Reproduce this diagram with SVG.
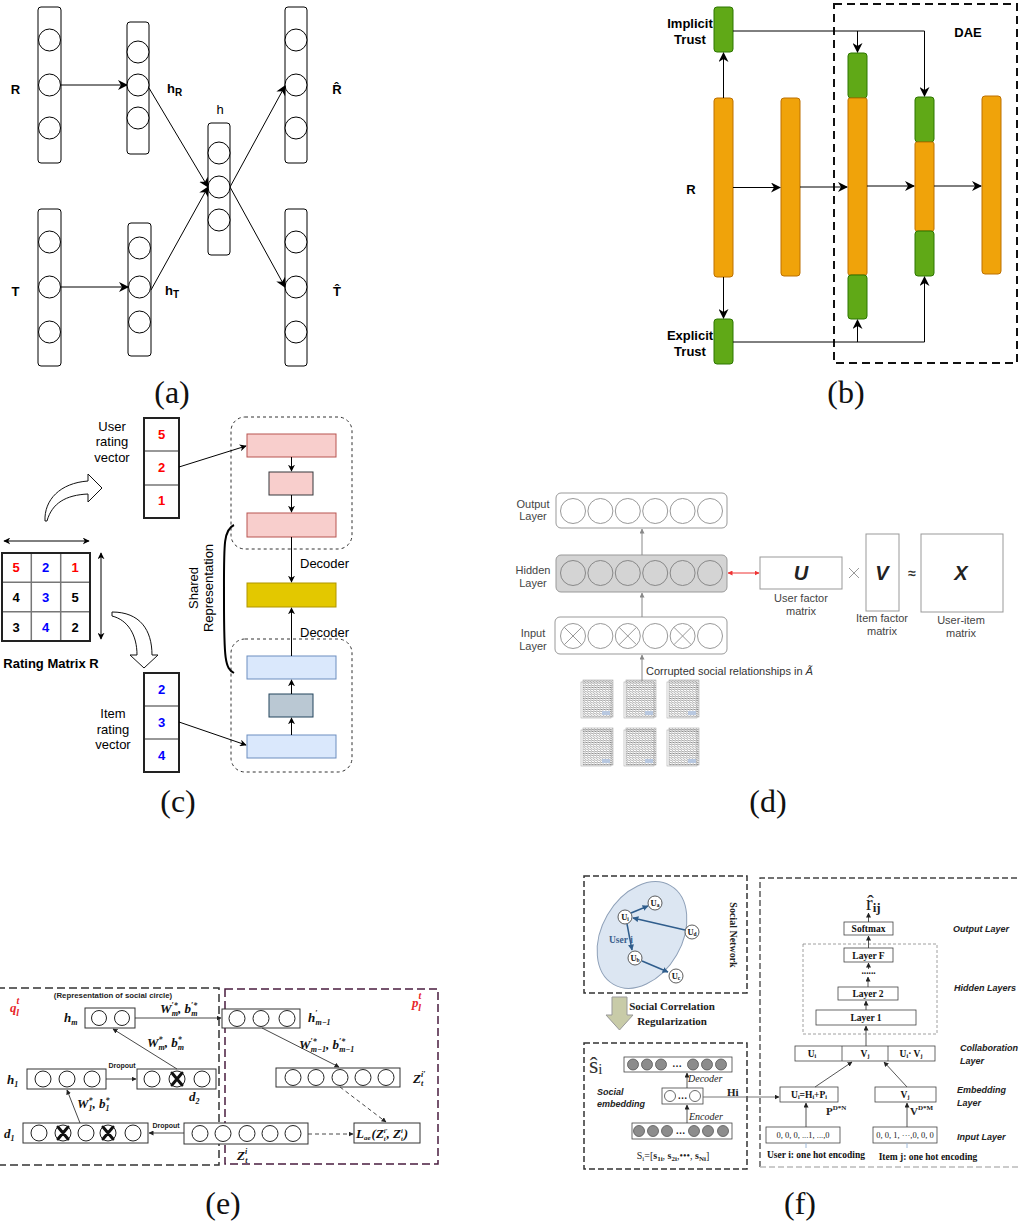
<svg xmlns="http://www.w3.org/2000/svg" width="1020" height="1224" viewBox="0 0 1020 1224">
<style>
.sans{font-family:"Liberation Sans",Arial,sans-serif}
.serif{font-family:"Liberation Serif","Times New Roman",serif}
.cap{font-family:"Liberation Serif","Times New Roman",serif;font-size:32px;text-anchor:middle;fill:#111}
.lb{font-family:"Liberation Sans",Arial,sans-serif;font-size:13px;font-weight:bold;fill:#000}
.lr{font-family:"Liberation Sans",Arial,sans-serif;font-size:13px;fill:#000}
.col{fill:#fff;stroke:#000;stroke-width:1}
.nc{fill:#fff;stroke:#000;stroke-width:1}
.or{fill:#f0a30a;stroke:#bd7000;stroke-width:1}
.gr{fill:#60a917;stroke:#2d7600;stroke-width:1}
.ln{fill:none;stroke:#000;stroke-width:1}
.dl{font-family:"Liberation Sans",Arial,sans-serif;font-size:11px;fill:#444;text-anchor:middle}
.dc{fill:#fff;stroke:#999;stroke-width:1}
.mi{font-family:"Liberation Serif","Times New Roman",serif;font-weight:bold;font-style:italic;font-size:13px;fill:#111}
.s{font-size:8px}
.eb{fill:#fff;stroke:#333;stroke-width:1}
.ec{fill:#fff;stroke:#222;stroke-width:1}
.fx{stroke:#111;stroke-width:3;stroke-linecap:round}
.fb{fill:#fff;stroke:#444;stroke-width:0.8}
.ft{font-family:"Liberation Serif","Times New Roman",serif;font-weight:bold;font-size:9.5px;fill:#111;text-anchor:middle}
.fi{font-family:"Liberation Sans",Arial,sans-serif;font-weight:bold;font-style:italic;font-size:9px;fill:#222}
.fc{fill:#8c8c8c;stroke:#555;stroke-width:0.8}
.fo{fill:#fff;stroke:#444;stroke-width:0.8}
.un{fill:#fff;stroke:#333;stroke-width:0.8}
.ul{font-family:"Liberation Serif","Times New Roman",serif;font-weight:bold;font-size:8.5px;fill:#111;text-anchor:middle}
</style>
<defs>
<marker id="ma" viewBox="0 0 10 10" refX="9" refY="5" markerWidth="10" markerHeight="10" markerUnits="userSpaceOnUse" orient="auto-start-reverse"><path d="M0,0 L10,5 L0,10 L3,5 z" fill="#000"/></marker>
<marker id="mc" viewBox="0 0 10 10" refX="9" refY="5" markerWidth="7" markerHeight="7" markerUnits="userSpaceOnUse" orient="auto-start-reverse"><path d="M0,0 L10,5 L0,10 L3,5 z" fill="#000"/></marker>
<marker id="ms" viewBox="0 0 10 10" refX="9" refY="5" markerWidth="5" markerHeight="5" markerUnits="userSpaceOnUse" orient="auto-start-reverse"><path d="M0,0 L10,5 L0,10 z" fill="#222"/></marker>
<marker id="mg" viewBox="0 0 10 10" refX="9" refY="5" markerWidth="5" markerHeight="5" markerUnits="userSpaceOnUse" orient="auto-start-reverse"><path d="M0,0 L10,5 L0,10 z" fill="#888"/></marker>
<marker id="mr" viewBox="0 0 10 10" refX="9" refY="5" markerWidth="5" markerHeight="5" markerUnits="userSpaceOnUse" orient="auto-start-reverse"><path d="M0,0 L10,5 L0,10 z" fill="#e33"/></marker>
<marker id="mb" viewBox="0 0 10 10" refX="9" refY="5" markerWidth="6" markerHeight="6" markerUnits="userSpaceOnUse" orient="auto-start-reverse"><path d="M0,0 L10,5 L0,10 z" fill="#2f5d8c"/></marker>
<pattern id="scrib" width="3" height="2.2" patternUnits="userSpaceOnUse"><path d="M0 1.1 Q0.75 0.2 1.5 1.1 T3 1.1" fill="none" stroke="#555" stroke-width="0.7"/></pattern>
</defs>
<rect width="1020" height="1224" fill="#fff"/>

<!-- ===== Panel (a) ===== -->
<g id="a-R">
<rect class="col" x="38" y="7" width="23" height="156" rx="3"/>
<circle class="nc" cx="49.5" cy="40" r="11"/><circle class="nc" cx="49.5" cy="85" r="11"/><circle class="nc" cx="49.5" cy="128" r="11"/>
<text class="lb" x="15.5" y="94" text-anchor="middle">R</text>
</g>
<g id="a-T">
<rect class="col" x="38" y="209" width="23" height="157" rx="3"/>
<circle class="nc" cx="49.5" cy="242" r="11"/><circle class="nc" cx="49.5" cy="287" r="11"/><circle class="nc" cx="49.5" cy="332" r="11"/>
<text class="lb" x="15.5" y="296" text-anchor="middle">T</text>
</g>
<g id="a-hR">
<rect class="col" x="127" y="22" width="22" height="132" rx="3"/>
<circle class="nc" cx="138" cy="52" r="11"/><circle class="nc" cx="138" cy="85" r="11"/><circle class="nc" cx="138" cy="118" r="11"/>
<text class="lb" x="167" y="93">h<tspan font-size="10" dy="3">R</tspan></text>
</g>
<g id="a-hT">
<rect class="col" x="128" y="223" width="23" height="133" rx="3"/>
<circle class="nc" cx="139.5" cy="248" r="11"/><circle class="nc" cx="139.5" cy="287" r="11"/><circle class="nc" cx="139.5" cy="322" r="11"/>
<text class="lb" x="165" y="295">h<tspan font-size="10" dy="3">T</tspan></text>
</g>
<g id="a-h">
<rect class="col" x="208" y="123" width="22" height="132" rx="3"/>
<circle class="nc" cx="219" cy="153" r="11"/><circle class="nc" cx="219" cy="187" r="11"/><circle class="nc" cx="219" cy="220" r="11"/>
<text class="lr" x="220" y="114" text-anchor="middle">h</text>
</g>
<g id="a-Rhat">
<rect class="col" x="285" y="7" width="22" height="156" rx="3"/>
<circle class="nc" cx="296" cy="40" r="11"/><circle class="nc" cx="296" cy="85" r="11"/><circle class="nc" cx="296" cy="128" r="11"/>
<text class="lb" x="337" y="94" text-anchor="middle">R̂</text>
</g>
<g id="a-That">
<rect class="col" x="285" y="209" width="22" height="157" rx="3"/>
<circle class="nc" cx="296" cy="242" r="11"/><circle class="nc" cx="296" cy="287" r="11"/><circle class="nc" cx="296" cy="332" r="11"/>
<text class="lb" x="337" y="296" text-anchor="middle">T̂</text>
</g>
<g id="a-edges" class="ln">
<path d="M61 85 L127 85" marker-end="url(#ma)"/>
<path d="M149 88 L208 187" marker-end="url(#ma)"/>
<path d="M61 287 L128 287" marker-end="url(#ma)"/>
<path d="M151 290 L208 187" marker-end="url(#ma)"/>
<path d="M230 187 L285 86" marker-end="url(#ma)"/>
<path d="M230 187 L285 287" marker-end="url(#ma)"/>
</g>
<text class="cap" x="172" y="403">(a)</text>

<!-- ===== Panel (b) ===== -->
<rect id="b-dae" x="834" y="4" width="183" height="359" fill="none" stroke="#111" stroke-width="2" stroke-dasharray="8 5"/>
<text class="lb" x="968" y="37" text-anchor="middle">DAE</text>
<g id="b-implicit"><rect class="gr" x="714" y="7" width="19" height="45" rx="3"/>
<text class="lb" x="690" y="28" text-anchor="middle">Implicit</text><text class="lb" x="690" y="44" text-anchor="middle">Trust</text></g>
<g id="b-R"><rect class="or" x="714" y="98" width="19" height="179" rx="3"/><text class="lb" x="691" y="194" text-anchor="middle">R</text></g>
<g id="b-explicit"><rect class="gr" x="714" y="319" width="19" height="45" rx="3"/>
<text class="lb" x="690" y="340" text-anchor="middle">Explicit</text><text class="lb" x="690" y="356" text-anchor="middle">Trust</text></g>
<g id="b-h1"><rect class="or" x="781" y="98" width="19" height="178" rx="3"/></g>
<g id="b-in"><rect class="gr" x="848" y="53" width="19" height="45" rx="3"/><rect class="or" x="848" y="98" width="19" height="177" rx="2"/><rect class="gr" x="848" y="275" width="19" height="44" rx="3"/></g>
<g id="b-code"><rect class="gr" x="915" y="97" width="19" height="45" rx="3"/><rect class="or" x="915" y="142" width="19" height="89" rx="2"/><rect class="gr" x="915" y="231" width="19" height="45" rx="3"/></g>
<g id="b-out"><rect class="or" x="982" y="96" width="19" height="178" rx="3"/></g>
<g id="b-edges" class="ln" stroke-width="1.2">
<path d="M723.5 98 L723.5 53" marker-end="url(#ma)"/>
<path d="M723.5 277 L723.5 318" marker-end="url(#ma)"/>
<path d="M733 31 L924.5 31 L924.5 96" marker-end="url(#ma)"/>
<path d="M857.5 31 L857.5 52" marker-end="url(#ma)"/>
<path d="M733 342 L924.5 342 L924.5 277" marker-end="url(#ma)"/>
<path d="M857.5 342 L857.5 320" marker-end="url(#ma)"/>
<path d="M733 187.5 L780 187.5" marker-end="url(#ma)"/>
<path d="M800 187 L847 187" marker-end="url(#ma)"/>
<path d="M867 186 L914 186" marker-end="url(#ma)"/>
<path d="M934 186 L981 186" marker-end="url(#ma)"/>
</g>
<text class="cap" x="846" y="403">(b)</text>

<!-- ===== Panel (c) ===== -->
<g id="c-user-vec">
<rect x="144" y="418" width="35" height="100" fill="#fff" stroke="#222" stroke-width="2"/>
<path d="M145 451 H178 M145 485 H178" stroke="#777" stroke-width="1.5"/>
<g class="lb" text-anchor="middle" style="fill:#ff0000"><text x="161.5" y="439">5</text><text x="161.5" y="472">2</text><text x="161.5" y="505">1</text></g>
<g class="lr" text-anchor="middle"><text x="112" y="431">User</text><text x="112" y="446">rating</text><text x="112" y="462">vector</text></g>
</g>
<g id="c-item-vec">
<rect x="144" y="673" width="35" height="99" fill="#fff" stroke="#222" stroke-width="2"/>
<path d="M145 706 H178 M145 739 H178" stroke="#777" stroke-width="1.5"/>
<g class="lb" text-anchor="middle" style="fill:#0000ff"><text x="161.5" y="694">2</text><text x="161.5" y="727">3</text><text x="161.5" y="760">4</text></g>
<g class="lr" text-anchor="middle"><text x="113" y="718">Item</text><text x="113" y="734">rating</text><text x="113" y="749">vector</text></g>
</g>
<g id="c-matrix">
<rect x="2" y="553" width="88" height="88" fill="#fff"/>
<path d="M31.3 553 V641 M60.7 553 V641 M2 582.3 H90 M2 611.7 H90" stroke="#777" stroke-width="1.5"/>
<rect x="2" y="553" width="88" height="88" fill="none" stroke="#222" stroke-width="2"/>
<g class="lb" text-anchor="middle">
<text x="16" y="572" style="fill:#ff0000">5</text><text x="45.5" y="572" style="fill:#0000ff">2</text><text x="75" y="572" style="fill:#ff0000">1</text>
<text x="16" y="602">4</text><text x="45.5" y="602" style="fill:#0000ff">3</text><text x="75" y="602">5</text>
<text x="16" y="632">3</text><text x="45.5" y="632" style="fill:#0000ff">4</text><text x="75" y="632">2</text>
</g>
<path class="ln" d="M4 541 L89 541" marker-start="url(#mc)" marker-end="url(#mc)"/>
<path class="ln" d="M101 553 L101 639" marker-start="url(#mc)" marker-end="url(#mc)"/>
<text class="lb" x="51" y="668" text-anchor="middle">Rating Matrix R</text>
</g>
<g id="c-curved-arrows" fill="#fff" stroke="#111" stroke-width="1">
<path d="M45 521 C44 500 60 483 88 481 L88 474 L102 488 L88 502 L88 494 C66 495 52 503 47 521 Z"/>
<path d="M112 612 C140 612 152 630 152 655 L158 655 L144 668 L130 655 L137 655 C137 635 128 620 112 616 Z"/>
</g>
<g id="c-enc-top"><rect x="231" y="417" width="121" height="132" rx="14" fill="none" stroke="#333" stroke-dasharray="3 3"/></g>
<g id="c-enc-bot"><rect x="231" y="639" width="121" height="133" rx="14" fill="none" stroke="#333" stroke-dasharray="3 3"/></g>
<g id="c-p1"><rect x="247" y="434" width="89" height="23" fill="#f8cecc" stroke="#b85450"/></g>
<g id="c-p2"><rect x="269" y="472" width="44" height="23" fill="#f8cecc" stroke="#36393d"/></g>
<g id="c-p3"><rect x="247" y="513" width="89" height="24" fill="#f8cecc" stroke="#b85450"/></g>
<g id="c-shared"><rect x="247" y="583" width="89" height="24" fill="#e3c800" stroke="#b09500"/></g>
<g id="c-b1"><rect x="247" y="656" width="89" height="23" fill="#dae8fc" stroke="#6c8ebf"/></g>
<g id="c-b2"><rect x="269" y="694" width="44" height="23" fill="#bac8d3" stroke="#23445d"/></g>
<g id="c-b3"><rect x="247" y="735" width="89" height="23" fill="#dae8fc" stroke="#6c8ebf"/></g>
<g id="c-edges" class="ln">
<path d="M179 467 L246 446" marker-end="url(#mc)"/>
<path d="M179 722 L246 745" marker-end="url(#mc)"/>
<path d="M291.5 457 L291.5 471" marker-end="url(#mc)"/>
<path d="M291.5 495 L291.5 512" marker-end="url(#mc)"/>
<path d="M291.5 537 L291.5 582" marker-end="url(#mc)"/>
<path d="M291.5 656 L291.5 608" marker-end="url(#mc)"/>
<path d="M291.5 694 L291.5 680" marker-end="url(#mc)"/>
<path d="M291.5 735 L291.5 718" marker-end="url(#mc)"/>
</g>
<text class="lr" x="300" y="568">Decoder</text>
<text class="lr" x="300" y="637">Decoder</text>
<text class="lr" transform="translate(198,588) rotate(-90)" text-anchor="middle">Shared</text>
<text class="lr" transform="translate(213,588) rotate(-90)" text-anchor="middle">Representation</text>
<path d="M234 525 C223 530 224 545 224 600 C224 660 225 668 234 673" fill="none" stroke="#000" stroke-width="2"/>
<text class="cap" x="178" y="812">(c)</text>

<!-- ===== Panel (d) ===== -->
<g id="d-output">
<rect x="556" y="493" width="171" height="35" rx="5" fill="#fff" stroke="#999"/>
<g class="dc"><circle cx="573" cy="511" r="12.5"/><circle cx="600.4" cy="511" r="12.5"/><circle cx="627.8" cy="511" r="12.5"/><circle cx="655.2" cy="511" r="12.5"/><circle cx="682.6" cy="511" r="12.5"/><circle cx="710" cy="511" r="12.5"/></g>
<text class="dl" x="533" y="508">Output</text><text class="dl" x="533" y="520">Layer</text>
</g>
<g id="d-hidden">
<rect x="556" y="555" width="171" height="37" rx="5" fill="#d4d4d4" stroke="#999"/>
<g fill="none" stroke="#888"><circle cx="573" cy="573" r="12.5"/><circle cx="600.4" cy="573" r="12.5"/><circle cx="627.8" cy="573" r="12.5"/><circle cx="655.2" cy="573" r="12.5"/><circle cx="682.6" cy="573" r="12.5"/><circle cx="710" cy="573" r="12.5"/></g>
<text class="dl" x="533" y="574">Hidden</text><text class="dl" x="533" y="587">Layer</text>
</g>
<g id="d-input">
<rect x="555" y="617" width="172" height="37" rx="5" fill="#fff" stroke="#999"/>
<g class="dc"><circle cx="573" cy="636" r="12.5"/><circle cx="600.4" cy="636" r="12.5"/><circle cx="627.8" cy="636" r="12.5"/><circle cx="655.2" cy="636" r="12.5"/><circle cx="682.6" cy="636" r="12.5"/><circle cx="710" cy="636" r="12.5"/></g>
<path d="M564.2 627.2 L581.8 644.8 M581.8 627.2 L564.2 644.8 M619 627.2 L636.6 644.8 M636.6 627.2 L619 644.8 M673.8 627.2 L691.4 644.8 M691.4 627.2 L673.8 644.8" stroke="#999" stroke-width="1"/>
<text class="dl" x="533" y="637">Input</text><text class="dl" x="533" y="650">Layer</text>
</g>
<g id="d-docs" stroke="#aaa" stroke-width="0.6">
<rect x="581" y="682" width="30" height="36" fill="#fff"/><rect x="624" y="682" width="30" height="36" fill="#fff"/><rect x="667" y="682" width="30" height="36" fill="#fff"/>
<rect x="581" y="730" width="30" height="36" fill="#fff"/><rect x="624" y="730" width="30" height="36" fill="#fff"/><rect x="667" y="730" width="30" height="36" fill="#fff"/>
<rect x="583" y="680" width="30" height="37" fill="url(#scrib)"/>
<rect x="626" y="680" width="30" height="37" fill="url(#scrib)"/>
<rect x="669" y="680" width="30" height="37" fill="url(#scrib)"/>
<rect x="583" y="728" width="30" height="37" fill="url(#scrib)"/>
<rect x="626" y="728" width="30" height="37" fill="url(#scrib)"/>
<rect x="669" y="728" width="30" height="37" fill="url(#scrib)"/>
<g fill="#b8c8e0" stroke="none"><rect x="602" y="711" width="8" height="4"/><rect x="645" y="711" width="8" height="4"/><rect x="688" y="711" width="8" height="4"/><rect x="602" y="759" width="8" height="4"/><rect x="645" y="759" width="8" height="4"/><rect x="688" y="759" width="8" height="4"/></g>
</g>
<text x="646" y="675" font-size="11" fill="#333" class="sans">Corrupted social relationships in <tspan font-style="italic">Ã</tspan></text>
<g id="d-U"><rect x="760" y="557" width="82" height="32" fill="#fff" stroke="#999"/>
<text x="801" y="580" class="sans" font-size="20" font-weight="bold" font-style="italic" text-anchor="middle" fill="#222">U</text>
<text class="dl" x="801" y="602">User factor</text><text class="dl" x="801" y="615">matrix</text></g>
<path d="M849 568 L859 578 M859 568 L849 578" stroke="#999" stroke-width="1"/>
<g id="d-V"><rect x="866" y="534" width="33" height="77" fill="#fff" stroke="#999"/>
<text x="882" y="580" class="sans" font-size="20" font-weight="bold" font-style="italic" text-anchor="middle" fill="#222">V</text>
<text class="dl" x="882" y="622">Item factor</text><text class="dl" x="882" y="635">matrix</text></g>
<text x="912" y="578" class="sans" font-size="14" font-weight="bold" text-anchor="middle" fill="#333">≈</text>
<g id="d-X"><rect x="921" y="534" width="82" height="78" fill="#fff" stroke="#999"/>
<text x="961" y="580" class="sans" font-size="20" font-weight="bold" font-style="italic" text-anchor="middle" fill="#222">X</text>
<text class="dl" x="961" y="624">User-item</text><text class="dl" x="961" y="637">matrix</text></g>
<g id="d-edges" fill="none" stroke="#888" stroke-width="1">
<path d="M642 555 L642 529" marker-end="url(#mg)"/>
<path d="M642 617 L642 593" marker-end="url(#mg)"/>
<path d="M642 681 L642 655" marker-end="url(#mg)"/>
<path d="M728 573 L759 573" stroke="#e33" marker-start="url(#mr)" marker-end="url(#mr)"/>
</g>
<text class="cap" x="768" y="812">(d)</text>

<!-- ===== Panel (e) ===== -->
<rect x="-3" y="988" width="222" height="177" fill="none" stroke="#333" stroke-width="1.5" stroke-dasharray="8 4"/>
<rect x="225" y="989" width="213" height="175" fill="none" stroke="#4a1d3f" stroke-width="1.5" stroke-dasharray="8 4"/>
<text x="113" y="998" class="sans" font-size="7.8" font-weight="bold" text-anchor="middle" fill="#222">(Representation of social circle)</text>
<text x="10" y="1012" class="mi" font-size="16" style="fill:#e8262b">q<tspan font-size="10" dy="-8">t</tspan><tspan font-size="10" dx="-3" dy="12">l</tspan></text>
<text x="412" y="1007" class="mi" font-size="16" style="fill:#e8262b">p<tspan font-size="10" dy="-8">t</tspan><tspan font-size="10" dx="-3" dy="12">l</tspan></text>
<g id="e-hm"><rect class="eb" x="85" y="1008" width="50" height="20"/><circle class="ec" cx="99" cy="1018" r="7.5"/><circle class="ec" cx="122" cy="1018" r="7.5"/>
<text x="64" y="1022" class="mi">h<tspan class="s" dy="3">m</tspan></text></g>
<g id="e-hm1"><rect class="eb" x="222" y="1009" width="78" height="19"/><circle class="ec" cx="237" cy="1018.5" r="8"/><circle class="ec" cx="261" cy="1018.5" r="8"/><circle class="ec" cx="287" cy="1018.5" r="8"/>
<text x="308" y="1022" class="mi">h<tspan class="s" dy="-6">′</tspan><tspan class="s" dx="-2" dy="9">m−1</tspan></text></g>
<g id="e-h1"><rect class="eb" x="27" y="1069" width="79" height="20"/><circle class="ec" cx="43" cy="1079" r="8"/><circle class="ec" cx="67" cy="1079" r="8"/><circle class="ec" cx="92" cy="1079" r="8"/>
<text x="7" y="1084" class="mi">h<tspan class="s" dy="3">1</tspan></text></g>
<g id="e-d2"><rect class="eb" x="137" y="1069" width="79" height="20"/><circle class="ec" cx="152" cy="1079" r="8"/><circle class="ec" cx="177" cy="1079" r="8"/><circle class="ec" cx="202" cy="1079" r="8"/>
<path class="fx" d="M172 1073 L182 1085 M182 1073 L172 1085"/>
<text x="189" y="1101" class="mi">d<tspan class="s" dy="3">2</tspan></text></g>
<g id="e-d1"><rect class="eb" x="23" y="1123" width="125" height="20"/><circle class="ec" cx="39" cy="1133" r="8"/><circle class="ec" cx="63" cy="1133" r="8"/><circle class="ec" cx="86" cy="1133" r="8"/><circle class="ec" cx="108" cy="1133" r="8"/><circle class="ec" cx="133" cy="1133" r="8"/>
<path class="fx" d="M58 1127 L68 1139 M68 1127 L58 1139 M103 1127 L113 1139 M113 1127 L103 1139"/>
<text x="4" y="1138" class="mi">d<tspan class="s" dy="3">1</tspan></text></g>
<g id="e-Z"><rect class="eb" x="184" y="1123" width="124" height="21"/><circle class="ec" cx="200" cy="1133.5" r="8"/><circle class="ec" cx="223" cy="1133.5" r="8"/><circle class="ec" cx="247" cy="1133.5" r="8"/><circle class="ec" cx="270" cy="1133.5" r="8"/><circle class="ec" cx="293" cy="1133.5" r="8"/>
<text x="237" y="1160" class="mi">Z<tspan class="s" dy="-6">i</tspan><tspan class="s" dx="-2" dy="9">t</tspan></text></g>
<g id="e-Zp"><rect class="eb" x="276" y="1068" width="124" height="19"/><circle class="ec" cx="293" cy="1077.5" r="8"/><circle class="ec" cx="316" cy="1077.5" r="8"/><circle class="ec" cx="340" cy="1077.5" r="8"/><circle class="ec" cx="363" cy="1077.5" r="8"/><circle class="ec" cx="386" cy="1077.5" r="8"/>
<text x="413" y="1083" class="mi">Z<tspan class="s" dy="-6">i′</tspan><tspan class="s" dx="-4.5" dy="9">t</tspan></text></g>
<g id="e-L"><rect class="eb" x="354" y="1123" width="66" height="20"/>
<text x="356" y="1138" class="mi" font-size="12">L<tspan font-size="7" dy="2">ae</tspan><tspan dx="1" dy="-2">(Z</tspan><tspan font-size="6.5" dy="-5">i′</tspan><tspan font-size="6.5" dx="-3.8" dy="8">t</tspan><tspan dx="1" dy="-3">, Z</tspan><tspan font-size="6.5" dy="-5">i</tspan><tspan font-size="6.5" dx="-1.8" dy="8">t</tspan><tspan dx="1" dy="-3">)</tspan></text></g>
<g id="e-edges" fill="none" stroke="#333" stroke-width="0.9">
<path d="M135 1018 L221 1018" marker-end="url(#ms)"/>
<path d="M177 1069 L113 1029" marker-end="url(#ms)"/>
<path d="M106 1079 L136 1079" marker-end="url(#ms)"/>
<path d="M80 1123 L67 1090" marker-end="url(#ms)"/>
<path d="M184 1133 L149 1133" marker-end="url(#ms)"/>
<path d="M262 1028 L339 1067" marker-end="url(#ms)"/>
<path d="M340 1087 L386 1122" stroke-dasharray="4 3" marker-end="url(#ms)"/>
<path d="M308 1134 L353 1134" stroke-dasharray="4 3" marker-end="url(#ms)"/>
</g>
<text x="160" y="1013" class="mi">W<tspan class="s" dy="-5">′*</tspan><tspan class="s" dx="-6" dy="8">m</tspan><tspan dy="-3">, b</tspan><tspan class="s" dy="-5">′*</tspan><tspan class="s" dx="-6" dy="8">m</tspan></text>
<text x="147" y="1047" class="mi">W<tspan class="s" dy="-5">*</tspan><tspan class="s" dx="-4" dy="8">m</tspan><tspan dy="-3">, b</tspan><tspan class="s" dy="-5">*</tspan><tspan class="s" dx="-4" dy="8">m</tspan></text>
<text x="77" y="1108" class="mi">W<tspan class="s" dy="-5">*</tspan><tspan class="s" dx="-4" dy="8">1</tspan><tspan dy="-3">, b</tspan><tspan class="s" dy="-5">*</tspan><tspan class="s" dx="-4" dy="8">1</tspan></text>
<text x="299" y="1049" class="mi">W<tspan class="s" dy="-5">′*</tspan><tspan class="s" dx="-6" dy="8">m−1</tspan><tspan dy="-3">, b</tspan><tspan class="s" dy="-5">′*</tspan><tspan class="s" dx="-6" dy="8">m−1</tspan></text>
<text x="122" y="1068" class="sans" font-size="7" font-weight="bold" text-anchor="middle" fill="#222">Dropout</text>
<text x="166" y="1128" class="sans" font-size="7" font-weight="bold" text-anchor="middle" fill="#222">Dropout</text>
<text class="cap" x="223" y="1214">(e)</text>

<!-- ===== Panel (f) ===== -->
<g id="f-social">
<rect x="584" y="876" width="163" height="117" fill="none" stroke="#333" stroke-width="1.5" stroke-dasharray="6 3"/>
<ellipse cx="642" cy="935" rx="57" ry="40" transform="rotate(-60 642 935)" fill="#dce6f2" stroke="#8ea0b8"/>
<text x="609" y="943" class="serif" font-size="9.5" font-weight="bold" fill="#3b5e8c">User i</text>
<text transform="translate(730,935) rotate(90)" class="serif" font-size="10" font-weight="bold" text-anchor="middle" fill="#222">Social Network</text>
</g>
<g id="f-Ua"><circle class="un" cx="655" cy="903" r="7"/><text class="ul" x="655" y="906">U<tspan font-size="5.5" dy="1">a</tspan></text></g>
<g id="f-Ui"><circle class="un" cx="625" cy="917" r="7"/><text class="ul" x="625" y="920">U<tspan font-size="5.5" dy="1">i</tspan></text></g>
<g id="f-Ud"><circle class="un" cx="692" cy="932" r="7"/><text class="ul" x="692" y="935">U<tspan font-size="5.5" dy="1">d</tspan></text></g>
<g id="f-Ub"><circle class="un" cx="635" cy="958" r="7"/><text class="ul" x="635" y="961">U<tspan font-size="5.5" dy="1">b</tspan></text></g>
<g id="f-Uc"><circle class="un" cx="676" cy="976" r="7"/><text class="ul" x="676" y="979">U<tspan font-size="5.5" dy="1">c</tspan></text></g>
<g id="f-social-edges" fill="none" stroke="#2f5d8c" stroke-width="1.5">
<path d="M631 913 L648 906" marker-end="url(#mb)"/>
<path d="M685 930 L633 918" marker-end="url(#mb)"/>
<path d="M627 924 L632 950" marker-end="url(#mb)"/>
<path d="M642 961 L668 972" marker-end="url(#mb)"/>
</g>
<polygon points="612,997 627,997 627,1015 633,1015 619.5,1030 606,1015 612,1015" fill="#c8cba8" stroke="#999"/>
<text x="672" y="1010" class="serif" font-size="11" font-weight="bold" text-anchor="middle" fill="#222">Social Correlation</text>
<text x="672" y="1025" class="serif" font-size="11" font-weight="bold" text-anchor="middle" fill="#222">Regularization</text>
<g id="f-embed">
<rect x="584" y="1043" width="163" height="126" fill="none" stroke="#333" stroke-width="1.5" stroke-dasharray="6 3"/>
<text x="589" y="1073" class="serif" font-size="24" fill="#333">ŝ<tspan font-size="15" dy="1">i</tspan></text>
<text x="597" y="1095" class="fi">Social</text><text x="597" y="1107" class="fi">embedding</text>
</g>
<g id="f-shat"><rect class="fb" x="624" y="1057" width="108" height="15"/>
<circle class="fc" cx="633" cy="1064.5" r="5.5"/><circle class="fc" cx="647" cy="1064.5" r="5.5"/><circle class="fc" cx="661" cy="1064.5" r="5.5"/><circle class="fc" cx="693" cy="1064.5" r="5.5"/><circle class="fc" cx="707" cy="1064.5" r="5.5"/><circle class="fc" cx="721" cy="1064.5" r="5.5"/>
<text class="ft" x="677" y="1067">…</text></g>
<g id="f-hid"><rect class="fb" x="662" y="1088" width="41" height="16"/>
<circle class="fo" cx="670" cy="1096" r="5.5"/><circle class="fo" cx="695" cy="1096" r="5.5"/><text class="ft" x="682.5" y="1099">…</text></g>
<g id="f-s"><rect class="fb" x="632" y="1123" width="100" height="16"/>
<circle class="fc" cx="639" cy="1131" r="5.5"/><circle class="fc" cx="653" cy="1131" r="5.5"/><circle class="fc" cx="667" cy="1131" r="5.5"/><circle class="fc" cx="694" cy="1131" r="5.5"/><circle class="fc" cx="708" cy="1131" r="5.5"/><circle class="fc" cx="723" cy="1131" r="5.5"/>
<text class="ft" x="680.5" y="1134">…</text></g>
<text x="688" y="1082" class="serif" font-size="10" font-style="italic" fill="#222">Decoder</text>
<text x="689" y="1120" class="serif" font-size="10" font-style="italic" fill="#222">Encoder</text>
<text x="727" y="1096" class="serif" font-size="11" font-weight="bold" fill="#222">Hi</text>
<text x="673" y="1159" class="serif" font-size="10" text-anchor="middle" fill="#222">S<tspan font-size="7" dy="2">i</tspan><tspan dy="-2">=[</tspan><tspan font-weight="bold">s</tspan><tspan font-size="7" font-weight="bold" dy="2">1i</tspan><tspan dy="-2">, </tspan><tspan font-weight="bold">s</tspan><tspan font-size="7" font-weight="bold" dy="2">2i</tspan><tspan dy="-2">,•••, </tspan><tspan font-weight="bold">s</tspan><tspan font-size="7" font-weight="bold" dy="2">Ni</tspan><tspan dy="-2">]</tspan></text>

<path d="M760 1167 L760 878 L1022 878" fill="none" stroke="#444" stroke-width="1.3" stroke-dasharray="6 3"/>
<path d="M760 1167 L1022 1167" fill="none" stroke="#bbb" stroke-width="1.3" stroke-dasharray="6 3"/>
<text x="866" y="910" class="serif" font-size="20" fill="#222">r̂<tspan font-size="13" font-weight="bold" dy="2">ij</tspan></text>
<g id="f-softmax"><rect class="fb" x="844" y="922" width="49" height="13"/><text class="ft" x="868.5" y="932">Softmax</text></g>
<rect x="803" y="944" width="134" height="90" fill="none" stroke="#888" stroke-width="0.8" stroke-dasharray="3 2"/>
<g id="f-layerF"><rect class="fb" x="844" y="948" width="49" height="14"/><text class="ft" x="868.5" y="959">Layer F</text></g>
<text class="ft" x="868.5" y="974">......</text>
<g id="f-layer2"><rect class="fb" x="838" y="987" width="60" height="13"/><text class="ft" x="868" y="997">Layer 2</text></g>
<g id="f-layer1"><rect class="fb" x="816" y="1010" width="100" height="15"/><text class="ft" x="866" y="1021">Layer 1</text></g>
<g id="f-collab"><rect class="fb" x="795" y="1046" width="140" height="15"/><path d="M842 1046 V1061 M888 1046 V1061" stroke="#444" stroke-width="0.8"/>
<text class="ft" x="812" y="1057">U<tspan font-size="6" dy="1">i</tspan></text>
<text class="ft" x="865" y="1057">V<tspan font-size="6" dy="1">j</tspan></text>
<text class="ft" x="911" y="1057">U<tspan font-size="6" dy="1">i</tspan><tspan dy="-1">· V</tspan><tspan font-size="6" dy="1">j</tspan></text></g>
<g id="f-Uemb"><rect class="fb" x="780" y="1087" width="58" height="15"/>
<text class="ft" x="809" y="1098">U<tspan font-size="6" dy="1">i</tspan><tspan dy="-1">=H</tspan><tspan font-size="6" dy="1">i</tspan><tspan dy="-1">+P</tspan><tspan font-size="6" dy="1">i</tspan></text></g>
<g id="f-Vemb"><rect class="fb" x="875" y="1087" width="61" height="15"/><text class="ft" x="905" y="1098">V<tspan font-size="6" dy="1">j</tspan></text></g>
<text x="826" y="1115" class="serif" font-size="11" font-weight="bold" fill="#222">P<tspan font-size="7" dy="-5">D*N</tspan></text>
<text x="910" y="1115" class="serif" font-size="11" font-weight="bold" fill="#222">V<tspan font-size="7" dy="-5">D*M</tspan></text>
<g id="f-uin"><rect class="fb" x="766" y="1127" width="74" height="16"/><text x="803" y="1138" class="serif" font-size="8.5" text-anchor="middle" fill="#222">0, 0, 0, ...1, ...,0</text></g>
<g id="f-iin"><rect class="fb" x="873" y="1127" width="64" height="16"/><text x="905" y="1138" class="serif" font-size="8.5" text-anchor="middle" fill="#222">0, 0, 1, ···,0, 0, 0</text></g>
<path d="M806 1143 L806 1148 M907 1143 L907 1148" stroke="#9db8d8" stroke-width="1"/>
<text x="816" y="1158" class="ft" font-size="9">User i: one hot encoding</text>
<text x="928" y="1160" class="ft" font-size="9">Item j: one hot encoding</text>
<g id="f-edges" fill="none" stroke="#444" stroke-width="0.9">
<path d="M868.5 922 L868.5 913" marker-end="url(#ms)"/>
<path d="M868.5 948 L868.5 936" marker-end="url(#ms)"/>
<path d="M868.5 969 L868.5 963" marker-end="url(#ms)"/>
<path d="M868 987 L868 977" marker-end="url(#ms)"/>
<path d="M866 1010 L866 1001" marker-end="url(#ms)"/>
<path d="M866 1046 L866 1026" marker-end="url(#ms)"/>
<path d="M815 1087 L852 1062" marker-end="url(#ms)"/>
<path d="M907 1087 L884 1062" marker-end="url(#ms)"/>
<path d="M806 1127 L806 1103" marker-end="url(#ms)"/>
<path d="M907 1127 L907 1103" marker-end="url(#ms)"/>
<path d="M687 1088 L687 1073" marker-end="url(#ms)"/>
<path d="M687 1123 L687 1105" marker-end="url(#ms)"/>
<path d="M703 1097 L779 1097" stroke="#666" marker-end="url(#ms)"/>
</g>
<text class="fi" x="953" y="932">Output Layer</text>
<text class="fi" x="954" y="991">Hidden Layers</text>
<text class="fi" x="960" y="1051">Collaboration</text>
<text class="fi" x="960" y="1064">Layer</text>
<text class="fi" x="957" y="1093">Embedding</text>
<text class="fi" x="957" y="1106">Layer</text>
<text class="fi" x="957" y="1140">Input Layer</text>
<text class="cap" x="800" y="1214">(f)</text>
</svg>
